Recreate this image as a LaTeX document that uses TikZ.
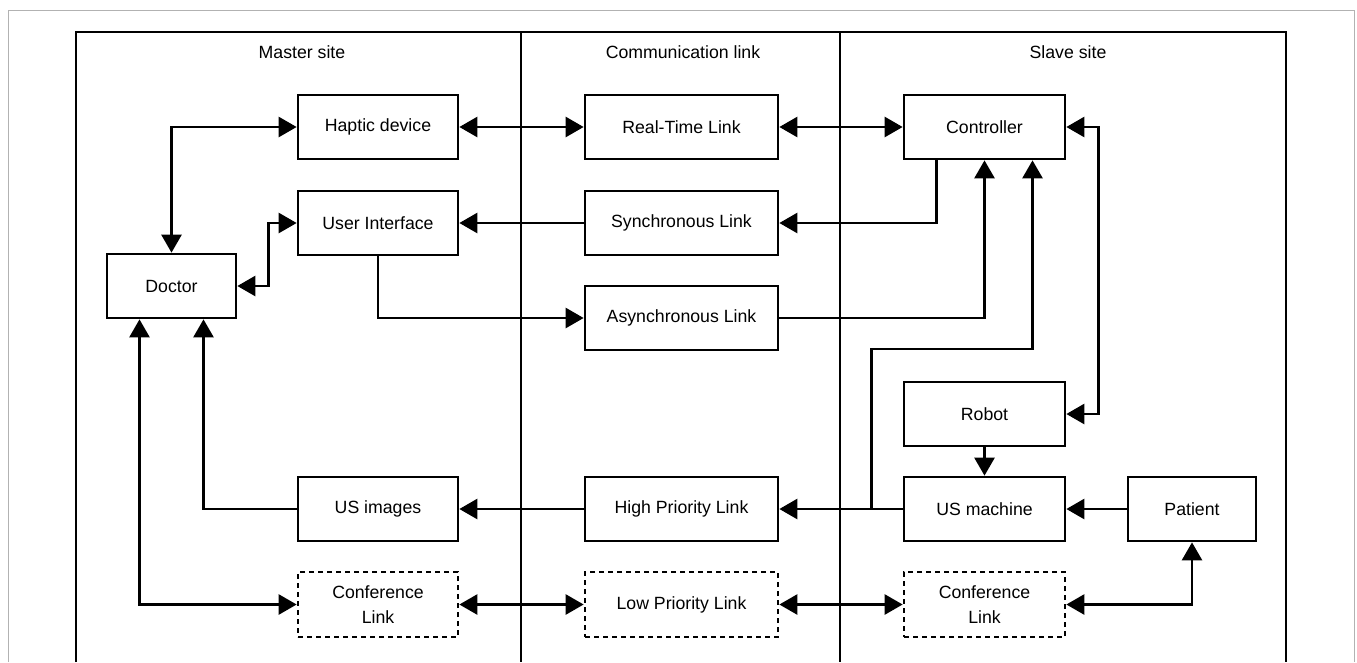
\documentclass[tikz,border=0pt]{standalone}
\usepackage{fontspec}
\setmainfont{Liberation Sans}
\usetikzlibrary{arrows.meta}
\begin{document}
\begin{tikzpicture}[x=1pt,y=-1pt,
  every node/.style={font=\fontsize{17.7}{25}\selectfont},
  blk/.style={draw,line width=2.7pt,minimum height=64pt,inner sep=0pt,align=center},
  dblk/.style={blk,dash pattern=on 5pt off 4pt},
  conn/.style={line width=2.6pt,-{Triangle[length=18pt,width=20pt]}},
  biconn/.style={line width=2.6pt,{Triangle[length=18pt,width=20pt]}-{Triangle[length=18pt,width=20pt]}},
  title/.style={inner sep=0pt}]
\useasboundingbox (0,0) rectangle (1357,662);
% frames
\draw[line width=1pt,gray!60] (8,662) -- (8,10) -- (1354,10) -- (1354,662);
\draw[line width=2.4pt] (76,662) -- (76,32) -- (1286,32) -- (1286,662);
\draw[line width=2pt] (521,32) -- (521,662);
\draw[line width=2pt] (840,32) -- (840,662);
% titles
\node[title] (tmaster) at (302,52) {Master site};
\node[title] (tcomm) at (683,52) {Communication link};
\node[title] (tslave) at (1068,52) {Slave site};
% master
\node[blk,minimum width=160pt] (haptic) at (378,127) {Haptic device};
\node[blk,minimum width=160pt] (ui) at (378,223) {User Interface};
\node[blk,minimum width=129pt] (doctor) at (171.5,286) {Doctor};
\node[blk,minimum width=160pt] (usi) at (378,509) {US images};
\node[dblk,minimum width=160pt,minimum height=65pt] (confm) at (378,604.5) {Conference\\Link};
% communication
\node[blk,minimum width=193pt] (rt) at (681.5,127) {Real-Time Link};
\node[blk,minimum width=193pt] (sync) at (681.5,223) {Synchronous Link};
\node[blk,minimum width=193pt] (async) at (681.5,318) {Asynchronous Link};
\node[blk,minimum width=193pt] (hp) at (681.5,509) {High Priority Link};
\node[dblk,minimum width=193pt,minimum height=65pt] (lp) at (681.5,604.5) {Low Priority Link};
% slave
\node[blk,minimum width=161pt] (ctrl) at (984.5,127) {Controller};
\node[blk,minimum width=161pt] (robot) at (984.5,414) {Robot};
\node[blk,minimum width=161pt] (usm) at (984.5,509) {US machine};
\node[blk,minimum width=128pt] (patient) at (1192,509) {Patient};
\node[dblk,minimum width=161pt,minimum height=65pt] (confs) at (984.5,604.5) {Conference\\Link};
% connectors
\draw[biconn] (doctor.north) |- (haptic.west);
\draw[biconn] (doctor.east) -- ++(31,0) |- (ui.west);
\draw[biconn] (haptic.east) -- (rt.west);
\draw[biconn] (rt.east) -- (ctrl.west);
\draw[conn] ([xshift=-48pt]ctrl.south) |- (sync.east);
\draw[conn] (sync.west) -- (ui.east);
\draw[conn] (ui.south) |- (async.west);
\draw[conn] (async.east) -| (ctrl.south);
\draw[biconn] (ctrl.east) -- ++(32,0) |- (robot.east);
\draw[conn] (robot.south) -- (usm.north);
\draw[conn] (patient.west) -- (usm.east);
\draw[conn] (usm.west) -- ++(-31,0) coordinate (br) -- (hp.east);
\draw[conn] (br) -- ++(0,-160) -| ([xshift=48pt]ctrl.south);
\draw[conn] (hp.west) -- (usi.east);
\draw[conn] (usi.west) -| ([xshift=32pt]doctor.south);
\draw[biconn] ([xshift=-32pt]doctor.south) |- (confm.west);
\draw[biconn] (confm.east) -- (lp.west);
\draw[biconn] (lp.east) -- (confs.west);
\draw[biconn] (confs.east) -| (patient.south);
\end{tikzpicture}
\end{document}
